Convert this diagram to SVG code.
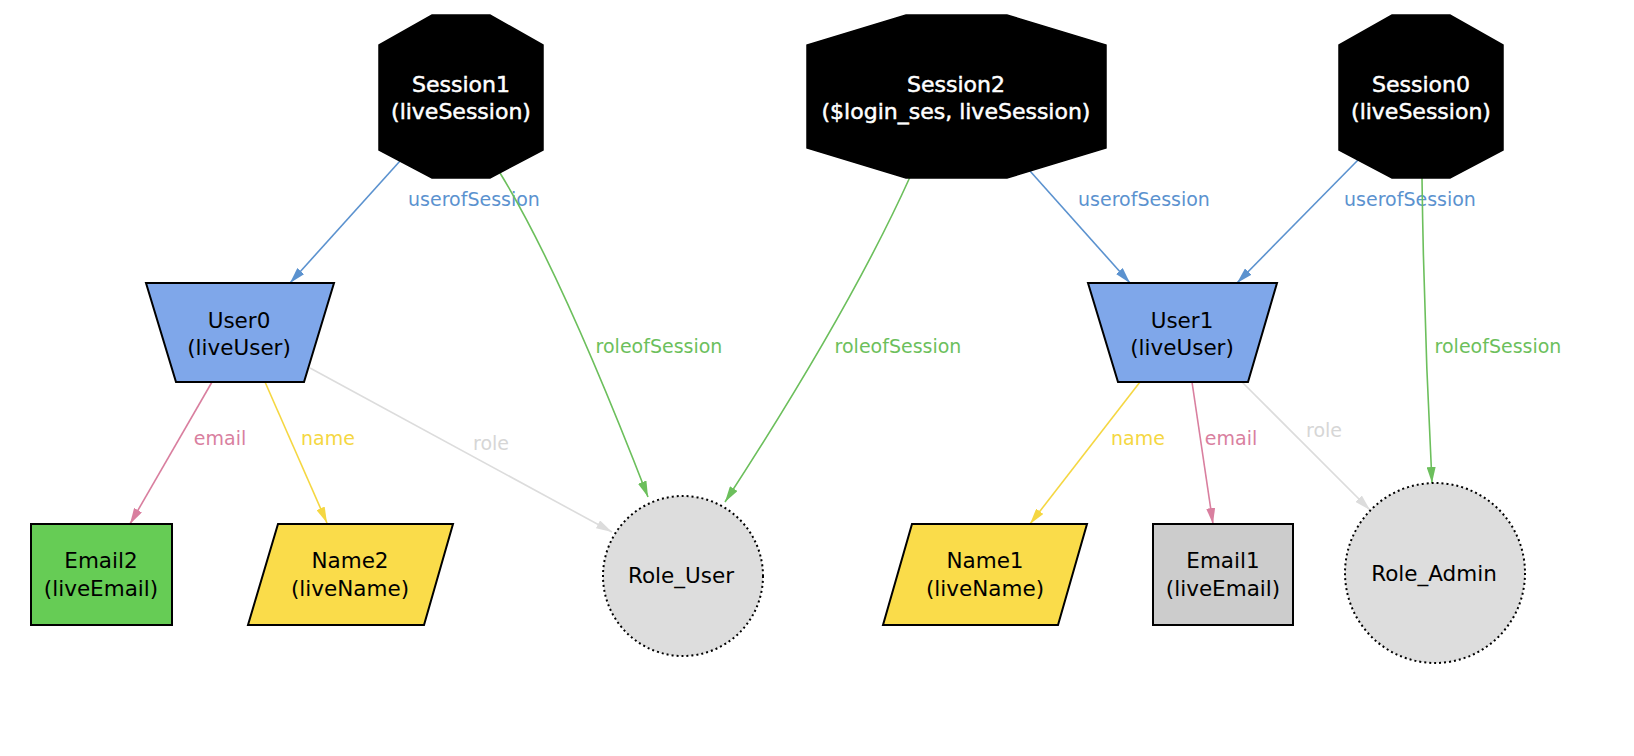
<svg xmlns="http://www.w3.org/2000/svg" width="1634" height="756" viewBox="0 0 1634 756">
<style>
.bg{fill:#ffffff}
.sess{fill:#000000;stroke:#000000;stroke-width:1.5}
.user{fill:#7fa7ea;stroke:#000000;stroke-width:2}
.name{fill:#fadc4a;stroke:#000000;stroke-width:2}
.emailg{fill:#66cc55;stroke:#000000;stroke-width:2}
.emaily{fill:#cccccc;stroke:#000000;stroke-width:2}
.role{fill:#dddddd;stroke:#000000;stroke-width:2;stroke-dasharray:2 3}
text{font-family:"DejaVu Sans","Verdana",sans-serif;text-anchor:middle}
.nt{font-size:21.5px;fill:#000000}
.st{font-size:22px;fill:#ffffff;stroke:#ffffff;stroke-width:0.5}
.lbl{font-size:19px}
.e{fill:none;stroke-width:1.6}
.c-u{stroke:#5b92cf}.t-u{fill:#5b92cf}
.c-r{stroke:#6cbf5c}.t-r{fill:#6cbf5c}
.c-m{stroke:#d97f9f}.t-m{fill:#d97f9f}
.c-n{stroke:#f5d742}.t-n{fill:#f5d742}
.c-g{stroke:#dcdcdc}.t-g{fill:#d6d6d6}
</style>
<defs>
<marker id="aU" markerUnits="userSpaceOnUse" markerWidth="16" markerHeight="9" refX="16" refY="4.5" orient="auto"><path d="M0,0 L16,4.5 L0,9 z" fill="#5b92cf"/></marker>
<marker id="aR" markerUnits="userSpaceOnUse" markerWidth="16" markerHeight="9" refX="16" refY="4.5" orient="auto"><path d="M0,0 L16,4.5 L0,9 z" fill="#6cbf5c"/></marker>
<marker id="aM" markerUnits="userSpaceOnUse" markerWidth="16" markerHeight="9" refX="16" refY="4.5" orient="auto"><path d="M0,0 L16,4.5 L0,9 z" fill="#d97f9f"/></marker>
<marker id="aN" markerUnits="userSpaceOnUse" markerWidth="16" markerHeight="9" refX="16" refY="4.5" orient="auto"><path d="M0,0 L16,4.5 L0,9 z" fill="#f5d742"/></marker>
<marker id="aG" markerUnits="userSpaceOnUse" markerWidth="16" markerHeight="9" refX="16" refY="4.5" orient="auto"><path d="M0,0 L16,4.5 L0,9 z" fill="#dcdcdc"/></marker>
</defs>
<rect class="bg" x="0" y="0" width="1634" height="756"/>

<g id="connectors">
  <path class="e c-u" d="M400,161 L290,283" marker-end="url(#aU)"/>
  <text class="lbl t-u" x="474" y="206">userofSession</text>
  <path class="e c-r" d="M500,173 Q560,270 648,497" marker-end="url(#aR)"/>
  <text class="lbl t-r" x="659" y="353">roleofSession</text>
  <path class="e c-r" d="M910,177 Q850,310 725,502" marker-end="url(#aR)"/>
  <text class="lbl t-r" x="898" y="353">roleofSession</text>
  <path class="e c-u" d="M1030,171 L1130,283" marker-end="url(#aU)"/>
  <text class="lbl t-u" x="1144" y="206">userofSession</text>
  <path class="e c-u" d="M1358,160 L1237,283" marker-end="url(#aU)"/>
  <text class="lbl t-u" x="1410" y="206">userofSession</text>
  <path class="e c-r" d="M1422,178 Q1424,330 1432,483" marker-end="url(#aR)"/>
  <text class="lbl t-r" x="1498" y="353">roleofSession</text>
  <path class="e c-m" d="M212,382 L130,524" marker-end="url(#aM)"/>
  <text class="lbl t-m" x="220" y="445">email</text>
  <path class="e c-n" d="M265,382 L327,523" marker-end="url(#aN)"/>
  <text class="lbl t-n" x="328" y="445">name</text>
  <path class="e c-g" d="M310,368 L612,532" marker-end="url(#aG)"/>
  <text class="lbl t-g" x="491" y="450">role</text>
  <path class="e c-n" d="M1140,382 L1030,524" marker-end="url(#aN)"/>
  <text class="lbl t-n" x="1138" y="445">name</text>
  <path class="e c-m" d="M1192,382 L1213,524" marker-end="url(#aM)"/>
  <text class="lbl t-m" x="1231" y="445">email</text>
  <path class="e c-g" d="M1240,380 L1370,510" marker-end="url(#aG)"/>
  <text class="lbl t-g" x="1324" y="437">role</text>
</g>

<g id="Session1">
  <polygon class="sess" points="432,15 490,15 543,45 543,150 490,178 432,178 379,150 379,45"/>
  <text class="st" x="461" y="92">Session1</text>
  <text class="st" x="461" y="119">(liveSession)</text>
</g>
<g id="Session2">
  <polygon class="sess" points="906,15 1007,15 1106,45 1106,148 1007,178 906,178 807,148 807,45"/>
  <text class="st" x="956" y="92">Session2</text>
  <text class="st" x="956" y="119">($login_ses, liveSession)</text>
</g>
<g id="Session0">
  <polygon class="sess" points="1392,15 1450,15 1503,45 1503,150 1450,178 1392,178 1339,150 1339,45"/>
  <text class="st" x="1421" y="92">Session0</text>
  <text class="st" x="1421" y="119">(liveSession)</text>
</g>
<g id="User0">
  <polygon class="user" points="146,283 334,283 304,382 176,382"/>
  <text class="nt" x="239" y="328">User0</text>
  <text class="nt" x="239" y="355">(liveUser)</text>
</g>
<g id="User1">
  <polygon class="user" points="1088,283 1277,283 1248,382 1118,382"/>
  <text class="nt" x="1182" y="328">User1</text>
  <text class="nt" x="1182" y="355">(liveUser)</text>
</g>
<g id="Email2">
  <rect class="emailg" x="31" y="524" width="141" height="101"/>
  <text class="nt" x="101" y="568">Email2</text>
  <text class="nt" x="101" y="596">(liveEmail)</text>
</g>
<g id="Name2">
  <polygon class="name" points="278,524 453,524 424,625 248,625"/>
  <text class="nt" x="350" y="568">Name2</text>
  <text class="nt" x="350" y="596">(liveName)</text>
</g>
<g id="Role_User">
  <circle class="role" cx="683" cy="576" r="80"/>
  <text class="nt" x="681" y="583">Role_User</text>
</g>
<g id="Name1">
  <polygon class="name" points="912,524 1087,524 1058,625 883,625"/>
  <text class="nt" x="985" y="568">Name1</text>
  <text class="nt" x="985" y="596">(liveName)</text>
</g>
<g id="Email1">
  <rect class="emaily" x="1153" y="524" width="140" height="101"/>
  <text class="nt" x="1223" y="568">Email1</text>
  <text class="nt" x="1223" y="596">(liveEmail)</text>
</g>
<g id="Role_Admin">
  <circle class="role" cx="1435" cy="573" r="90"/>
  <text class="nt" x="1434" y="581">Role_Admin</text>
</g>
</svg>
